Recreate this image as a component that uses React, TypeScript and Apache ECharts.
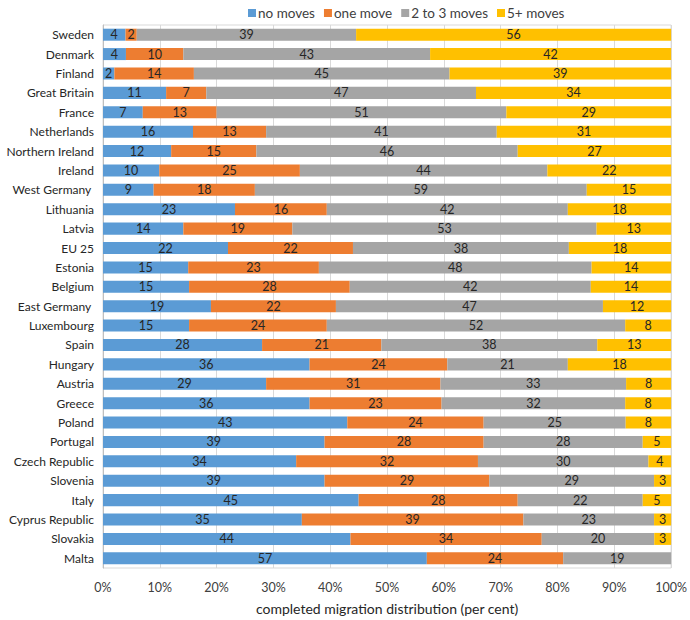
import React, { useEffect, useRef } from "react";
import * as echarts from "echarts";

const categories = [
  "Sweden", "Denmark", "Finland", "Great Britain", "France", "Netherlands",
  "Northern Ireland", "Ireland", "West Germany ", "Lithuania", "Latvia", "EU 25",
  "Estonia", "Belgium", "East Germany ", "Luxembourg", "Spain", "Hungary",
  "Austria", "Greece", "Poland", "Portugal", "Czech Republic", "Slovenia",
  "Italy", "Cyprus Republic", "Slovakia", "Malta",
];
const noMoves = [4, 4, 2, 11, 7, 16, 12, 10, 9, 23, 14, 22, 15, 15, 19, 15, 28, 36, 29, 36, 43, 39, 34, 39, 45, 35, 44, 57];
const oneMove = [2, 10, 14, 7, 13, 13, 15, 25, 18, 16, 19, 22, 23, 28, 22, 24, 21, 24, 31, 23, 24, 28, 32, 29, 28, 39, 34, 24];
const twoToThree = [39, 43, 45, 47, 51, 41, 46, 44, 59, 42, 53, 38, 48, 42, 47, 52, 38, 21, 33, 32, 25, 28, 30, 29, 22, 23, 20, 19];
const fivePlus = [56, 42, 39, 34, 29, 31, 27, 22, 15, 18, 13, 18, 14, 14, 12, 8, 13, 18, 8, 8, 8, 5, 4, 3, 5, 3, 3, 0];

const seriesNames = ["no moves", "one move", "2 to 3 moves", "5+ moves"];
const seriesColors = ["#5B9BD5", "#ED7D31", "#A5A5A5", "#FFC000"];
const raw = [noMoves, oneMove, twoToThree, fivePlus];

export default function App() {
  const ref = useRef<HTMLDivElement>(null);
  useEffect(() => {
    if (!ref.current) return;
    const chart = echarts.init(ref.current, undefined, { renderer: "svg" });
    const totals = categories.map((_, i) => raw.reduce((s, arr) => s + arr[i], 0));
    const font = "Lato";
    chart.setOption({
      animation: false,
      textStyle: { fontFamily: font },
      legend: {
        top: 1,
        left: 243,
        itemWidth: 8,
        itemHeight: 8,
        itemGap: 9,
        icon: "rect",
        textStyle: { fontFamily: font, fontSize: 13.5, color: "#404040", padding: [0, 0, 0, -3] },
        data: seriesNames,
      },
      grid: {
        left: 103,
        right: 14,
        top: 25,
        bottom: 48,
        show: true,
        borderColor: "#D9D9D9",
        borderWidth: 1,
      },
      xAxis: {
        type: "value",
        min: 0,
        max: 100,
        interval: 10,
        axisLabel: { formatter: "{value}%", color: "#404040", fontSize: 12.5, fontFamily: font, margin: 13 },
        axisLine: { show: false },
        axisTick: { show: false },
        splitLine: { lineStyle: { color: "#D9D9D9" } },
        name: "completed migration distribution (per cent)",
        nameLocation: "middle",
        nameGap: 33,
        nameTextStyle: { color: "#262626", fontSize: 14, fontFamily: font },
      },
      yAxis: {
        type: "category",
        inverse: true,
        data: categories,
        axisLine: { show: true, lineStyle: { color: "#BFBFBF" } },
        axisTick: { show: false },
        axisLabel: { color: "#262626", fontSize: 12, fontFamily: font, margin: 9 },
      },
      series: raw.map((arr, si) => ({
        name: seriesNames[si],
        type: "bar",
        stack: "total",
        barCategoryGap: "38%",
        itemStyle: { color: seriesColors[si] },
        label: {
          show: true,
          position: "inside",
          color: "#262626",
          fontSize: 12.5,
          fontFamily: font,
          formatter: (p: any) => (arr[p.dataIndex] ? String(arr[p.dataIndex]) : ""),
        },
        data: arr.map((v, i) => (v / totals[i]) * 100),
      })),
    });
    return () => chart.dispose();
  }, []);
  return (
    <div
      ref={ref}
      style={{ position: "absolute", left: 0, top: 0, width: 690, height: 620 }}
    />
  );
}
